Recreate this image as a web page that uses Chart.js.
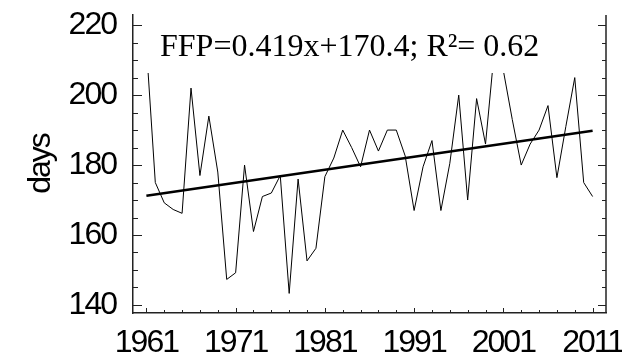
<!DOCTYPE html>
<html>
<head>
<meta charset="utf-8">
<script src="https://cdn.jsdelivr.net/npm/chart.js@4/dist/chart.umd.min.js"></script>
<style>
html,body{margin:0;padding:0;background:#fff;}
#wrap{width:622px;height:362px;}
</style>
</head>
<body>
<div id="wrap"><canvas id="c" width="622" height="362"></canvas></div>
<script>
const years = [1961,1962,1963,1964,1965,1966,1967,1968,1969,1970,
  1971,1972,1973,1974,1975,1976,1977,1978,1979,1980,
  1981,1982,1983,1984,1985,1986,1987,1988,1989,1990,
  1991,1992,1993,1994,1995,1996,1997,1998,1999,2000,
  2001,2002,2003,2004,2005,2006,2007,2008,2009,2010,2011];
const ffpDays = [214,175,169.2,167.3,166.2,202,177,194,178,147.3,
  149.2,180,161,171,172,177,143.3,176,152.6,156.2,
  176.7,182,190,185,179.5,190,184,190,190,182.6,
  167,179.5,187,167,180.5,200,170,199,186,213,
  207,193,180,186,190,197,176.4,191,205,175,171];
const trendYears = [1961, 2011];
const trendValues = [171.2, 189.8];
const xTickLabels = [1961,1971,1981,1991,2001,2011];
const yTickLabels = [140,160,180,200,220];
const equationText = "FFP=0.419x+170.4; R\u00B2= 0.62";
const yTitle = "days";

const condense = {
  id: 'condense',
  beforeDraw(chart) { try { chart.ctx.letterSpacing = '-2px'; } catch (e) {} },
  afterDraw(chart) { try { chart.ctx.letterSpacing = '0px'; } catch (e) {} }
};

const decor = {
  id: 'decor',
  afterDatasetsDraw(chart) {
    const {ctx, chartArea: a, scales: {x, y}} = chart;
    ctx.save();
    try { ctx.letterSpacing = '0px'; } catch (e) {}
    // annotation box (white background hides the line beneath)
    ctx.fillStyle = '#fff';
    ctx.fillRect(a.left + 1, 28, 430, 45);
    ctx.fillStyle = '#000';
    ctx.font = '32px "Liberation Serif", "Times New Roman", serif';
    ctx.textBaseline = 'alphabetic';
    ctx.textAlign = 'left';
    ctx.fillText(equationText, 160, 56);

    ctx.strokeStyle = '#222';
    ctx.lineWidth = 1.5;
    // right border
    ctx.beginPath();
    ctx.moveTo(a.right, a.top);
    ctx.lineTo(a.right, a.bottom);
    ctx.stroke();
    ctx.lineWidth = 1;
    // y ticks (major & minor) on left and right
    for (let v = 140; v <= 220; v += 5) {
      const py = Math.round(y.getPixelForValue(v)) + 0.5;
      const major = yTickLabels.includes(v);
      ctx.beginPath();
      ctx.moveTo(a.left, py); ctx.lineTo(a.left + (major ? 9 : 5), py);
      ctx.moveTo(a.right, py); ctx.lineTo(a.right - (major ? 8 : 4), py);
      ctx.stroke();
    }
    // x ticks
    for (let yr = 1961; yr <= 2011; yr += 2) {
      const px = Math.round(x.getPixelForValue(yr)) + 0.5;
      const major = xTickLabels.includes(yr);
      ctx.beginPath();
      ctx.moveTo(px, a.bottom); ctx.lineTo(px, a.bottom - (major ? 5 : 3));
      ctx.stroke();
    }
    ctx.restore();
  }
};

const tickFont = {family: '"Liberation Sans", Arial, sans-serif', size: 32};

new Chart(document.getElementById('c'), {
  type: 'line',
  data: {
    datasets: [
      {
        data: years.map((yr, i) => ({x: yr, y: ffpDays[i]})),
        borderColor: '#000', borderWidth: 1, pointRadius: 0, tension: 0, fill: false
      },
      {
        data: trendYears.map((yr, i) => ({x: yr, y: trendValues[i]})),
        borderColor: '#000', borderWidth: 2.6, pointRadius: 0, tension: 0, fill: false
      }
    ]
  },
  options: {
    responsive: false,
    animation: false,
    devicePixelRatio: 1,
    layout: {padding: {left: 0, top: 15, right: 16, bottom: 0}},
    plugins: {legend: {display: false}, tooltip: {enabled: false}},
    scales: {
      x: {
        type: 'linear', min: 1959.5, max: 2012.5,
        grid: {display: false, drawTicks: false},
        border: {display: true, color: '#222', width: 1.5},
        ticks: {color: '#000', font: tickFont, padding: 11, maxRotation: 0, autoSkip: false,
          callback: v => String(v)},
        afterBuildTicks(s) { s.ticks = xTickLabels.map(v => ({value: v})); },
        afterFit(s) { s.height = 49; s.paddingLeft = 0; s.paddingRight = 0; }
      },
      y: {
        min: 137.7, max: 222.9,
        grid: {display: false, drawTicks: false},
        border: {display: true, color: '#222', width: 1.5},
        ticks: {color: '#000', font: tickFont, padding: 17, callback: v => String(v)},
        afterBuildTicks(s) { s.ticks = yTickLabels.map(v => ({value: v})); },
        title: {display: true, text: yTitle, color: '#000', font: tickFont, padding: {top: 22, bottom: 0}},
        afterFit(s) { s.width = 133; s.paddingTop = 0; s.paddingBottom = 0; }
      }
    }
  },
  plugins: [condense, decor]
});
</script>
</body>
</html>
